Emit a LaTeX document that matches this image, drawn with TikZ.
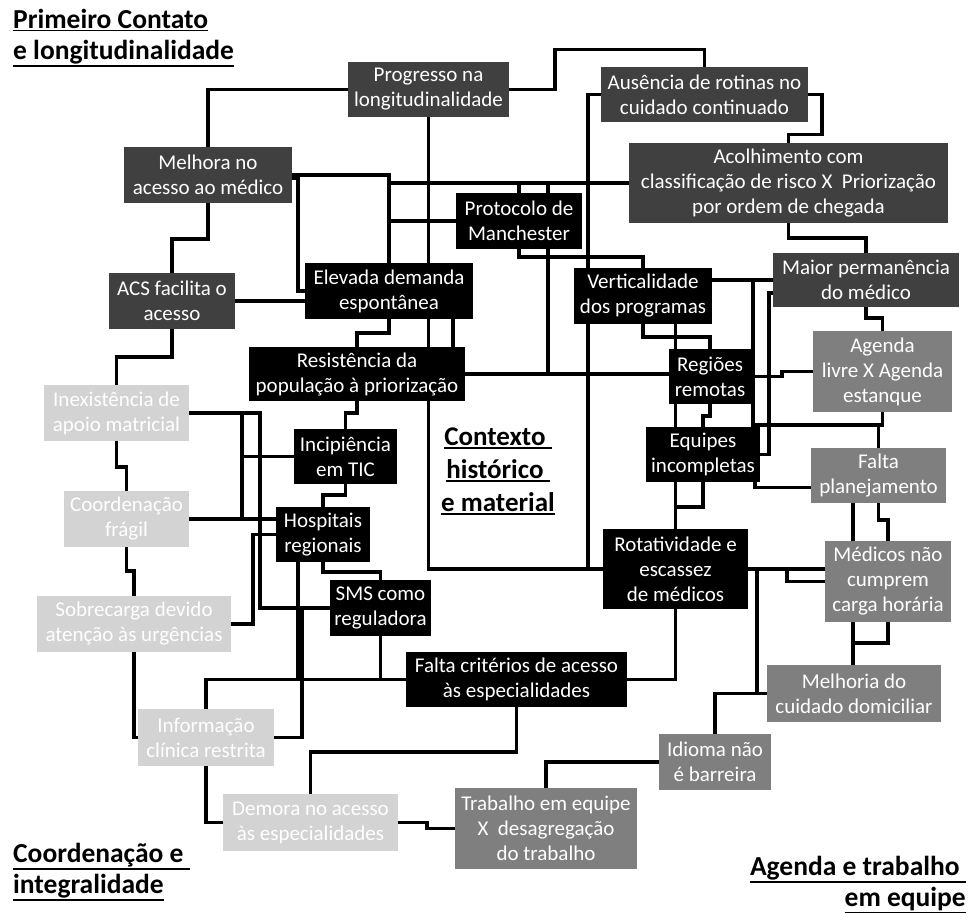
\documentclass[tikz,border=0pt]{standalone}
\usepackage{fontspec}
\setmainfont{Carlito}
\usetikzlibrary{backgrounds}

\definecolor{dkgrey}{HTML}{404040}
\definecolor{mdgrey}{HTML}{7F7F7F}
\definecolor{ltgrey}{HTML}{D3D3D3}

% thick underline for the titles
\newcommand{\tline}[1]{\setbox0=\hbox{#1}\leavevmode\rlap{\rule[\dimexpr-\dp0-2.8pt\relax]{\wd0}{1.8pt}}\box0}

\tikzset{
  conn/.style={line width=3.4pt},
  sz/.style 2 args={minimum width=#1, minimum height=#2},
  box/.style={rectangle, inner sep=1pt, outer sep=0pt, text=white, align=center,
    font=\fontsize{21}{25}\selectfont},
  dkbox/.style={box, fill=dkgrey},
  bkbox/.style={box, fill=black},
  mdbox/.style={box, fill=mdgrey},
  ltbox/.style={box, fill=ltgrey},
  title/.style={inner sep=0pt, font=\bfseries\fontsize{27.5}{31}\selectfont}
}

\begin{document}
\begin{tikzpicture}[x=1pt, y=-1pt]
  \useasboundingbox (0,0) rectangle (976,912);

  % primeiro contato e longitudinalidade
  \node[dkbox, sz={161}{55}] (prog) at (428.5,89.5) {Progresso na\\longitudinalidade};
  \node[dkbox, sz={207}{55}] (ausencia) at (704.5,94.5) {Ausência de rotinas no\\cuidado continuado};
  \node[dkbox, sz={319}{80}] (acolh) at (788.5,183) {Acolhimento com\\classificação de risco X~ Priorização\\por ordem de chegada};
  \node[dkbox, sz={168}{56}] (melhora) at (208,175) {Melhora no\\acesso ao médico};
  \node[dkbox, sz={126}{56}] (acs) at (172,301) {ACS facilita o\\acesso};
  \node[dkbox, sz={186}{54}] (maior) at (866,280) {Maior permanência\\do médico};

  % contexto
  \node[bkbox, sz={126}{56}] (protocolo) at (519,221) {Protocolo de\\Manchester};
  \node[bkbox, sz={168}{56}] (elevada) at (389,291) {Elevada demanda\\espontânea};
  \node[bkbox, sz={138}{56}] (vertical) at (643,296) {Verticalidade\\dos programas};
  \node[bkbox, sz={216}{54}] (resist) at (357,374) {Resistência da\\população à priorização};
  \node[bkbox, sz={82}{55}] (regioes) at (710,376.5) {Regiões\\remotas};
  \node[bkbox, sz={103}{55}] (incip) at (345.5,456.5) {Incipiência\\em TIC};
  \node[bkbox, sz={114}{55}] (equipes) at (703,454.5) {Equipes\\incompletas};
  \node[bkbox, sz={94}{55}] (hosp) at (323,534.5) {Hospitais\\regionais};
  \node[bkbox, sz={145}{80}] (rotat) at (675.5,569) {Rotatividade e\\escassez\\de médicos};
  \node[bkbox, sz={101}{56}] (sms) at (380.5,608) {SMS como\\reguladora};
  \node[bkbox, sz={221}{55}] (faltacrit) at (516.5,679.5) {Falta critérios de acesso\\às especialidades};

  % agenda e trabalho em equipe
  \node[mdbox, sz={139}{81}] (agenda) at (882.5,371.5) {Agenda\\livre X Agenda\\estanque};
  \node[mdbox, sz={135}{55}] (faltaplan) at (878.5,475.5) {Falta\\planejamento};
  \node[mdbox, sz={126}{81}] (medicos) at (888,581.5) {Médicos não\\cumprem\\carga horária};
  \node[mdbox, sz={174}{57}] (melhoria) at (854,693.5) {Melhoria do\\cuidado domiciliar};
  \node[mdbox, sz={112}{56}] (idioma) at (715,762) {Idioma não\\é barreira};
  \node[mdbox, sz={182}{81}] (trabalho) at (546,828.5) {Trabalho em equipe\\X~ desagregação\\do trabalho};

  % coordenacao e integralidade
  \node[ltbox, sz={145}{56}] (inexist) at (116.5,413) {Inexistência de\\apoio matricial};
  \node[ltbox, sz={125}{56}] (coord) at (126.5,519) {Coordenação\\frágil};
  \node[ltbox, sz={194}{56}] (sobrec) at (134,624) {Sobrecarga devido\\atenção às urgências};
  \node[ltbox, sz={136}{57}] (inform) at (206,737.5) {Informação\\clínica restrita};
  \node[ltbox, sz={175}{57}] (demora) at (310.5,822.5) {Demora no acesso\\às especialidades};

  % titles
  \node[title, anchor=north west, align=left] (tprim) at (13,9) {\tline{Primeiro Contato}\\\tline{e longitudinalidade}};
  \node[title, anchor=north, align=center, font=\bfseries\fontsize{27}{33}\selectfont] (tctx) at (498,428) {\tline{Contexto }\\\tline{histórico }\\\tline{e material}};
  \node[title, anchor=north west, align=left] (tcoord) at (13,843) {\tline{Coordenação e }\\\tline{integralidade}};
  \node[title, anchor=north east, align=right] (tagenda) at (966,856) {\tline{Agenda e trabalho }\\\tline{em equipe}};

  \begin{scope}[on background layer]
  \draw[conn] (melhora.north) |- (prog.west);
  \draw[conn] (prog.east) -| ++(46,-40) -| (ausencia.north);
  \draw[conn] (ausencia.east) -| ++(14,40) -| (acolh.north);
  \draw[conn] (acolh.south) -- ++(0,15) -| (maior.north);
  \draw[conn] (maior.south) -- ++(0,11) -| (agenda.north);
  \draw[conn] (agenda.south) -- ++(0,13) -| (faltaplan.north);
  \draw[conn] (faltaplan.south) -- ++(0,17) -| (medicos.north);
  \draw[conn] ([xshift=-25.5pt]faltaplan.south) -- ([xshift=-35pt]medicos.north);
  \draw[conn] (medicos.south) -- ++(0,21) -| ([xshift=-1pt]melhoria.north);
  \draw[conn] ([xshift=-35pt]medicos.south) -- ([xshift=-1pt]melhoria.north);

  \draw[conn] (melhora.south) -- ++(0,36) -| (acs.north);
  \draw[conn] (acs.south) -- ++(0,28) -| (inexist.north);
  \draw[conn] (inexist.south) -- ++(0,26) -| (coord.north);
  \draw[conn] (coord.south) -- ++(0,24) -| (sobrec.north);
  \draw[conn] (sobrec.south) |- (inform.west);
  \draw[conn] (inform.south) |- (demora.west);

  \draw[conn] (acs.east) -- (acs.east -| elevada.west);
  \draw[conn] (melhora.east) -| (elevada.north);
  \draw[conn] ([yshift=-3pt]melhora.east) -- ++(6,0) |- (elevada.west);
  \draw[conn] (elevada.north |- acolh.west) -- (acolh.west);
  \draw[conn] (protocolo.north) -- ++(0,-10);
  \draw[conn] ([xshift=29pt]protocolo.north) -- ++(0,-10);
  \draw[conn] ([xshift=29pt]protocolo.south) |- (resist.east);
  \draw[conn] (protocolo.west) -- (protocolo.west -| elevada.north);
  \draw[conn] (prog.south) -- (prog.south |- elevada.north);
  \draw[conn] (elevada.south) -- ++(0,14) -| (resist.north);
  \draw[conn] (prog.south |- elevada.south) -- (prog.south |- resist.north);
  \draw[conn] ([xshift=64pt]elevada.south) -- ++(0,28);
  \draw[conn] (prog.south |- resist.south) |- (rotat.west);
  \draw[conn] (ausencia.west) -- ++(-13,0) |- (rotat.west);
  \draw[conn] (protocolo.south) -- ++(0,8) -| (vertical.north);
  \draw[conn] (vertical.south) -- ++(0,13) -| (regioes.north);
  \draw[conn] (rotat.north) -- (rotat.north |- vertical.south);
  \draw[conn] (regioes.south) -- ++(0,12) -| (equipes.north);
  \draw[conn] (equipes.south) -- ++(0,25) -| (rotat.north);

  \draw[conn] (maior.west) -- (maior.west -| vertical.east);
  \draw[conn] ([xshift=-20pt]maior.west) |- ([yshift=-13pt]agenda.south);
  \draw[conn] ([yshift=-13pt]maior.west) -- ++(-4,0) |- (equipes.east);
  \draw[conn] ([xshift=-5pt]equipes.south east) |- ([yshift=-12pt]faltaplan.west);
  \draw[conn] (resist.east) -- (resist.east -| regioes.west);
  \draw[conn] (regioes.east) -- ++(31,0) |- (agenda.west);
  \draw[conn] (rotat.east) -- (rotat.east -| medicos.west);
  \draw[conn] ([xshift=39pt]rotat.east) |- (medicos.west);
  \draw[conn] ([xshift=9pt]rotat.east) |- (melhoria.west);
  \draw[conn] (idioma.north) |- (melhoria.west);
  \draw[conn] (rotat.south) |- (faltacrit.east);
  \draw[conn] (idioma.west) -| (trabalho.north);
  \draw[conn] (demora.east) -- ++(29,0) |- (trabalho.west);
  \draw[conn] (faltacrit.south) -- ++(0,45) -| (demora.north);

  \draw[conn] (inexist.east) -- ++(71,0) |- (sms.west);
  \draw[conn] ([xshift=53pt]inexist.east) -- ++(0,106);
  \draw[conn] (incip.west) -- ++(-52,0);
  \draw[conn] (coord.east) -- (coord.east -| hosp.west);
  \draw[conn] (sobrec.east) -- ++(22,0) |- (hosp.west);
  \draw[conn] (hosp.south) -- ++(0,10) -| (sms.north);
  \draw[conn] ([xshift=-25pt]hosp.south) |- (faltacrit.west);
  \draw[conn] (faltacrit.west) -| (inform.north);
  \draw[conn] (sms.south) -- (sms.south |- faltacrit.west);
  \draw[conn] ([xshift=-28pt]sms.west) |- (inform.east);
  \draw[conn] (incip.south) -- ++(0,11) -| (hosp.north);
  \draw[conn] (resist.south) -- ++(0,12) -| (incip.north);
  \end{scope}
\end{tikzpicture}
\end{document}
